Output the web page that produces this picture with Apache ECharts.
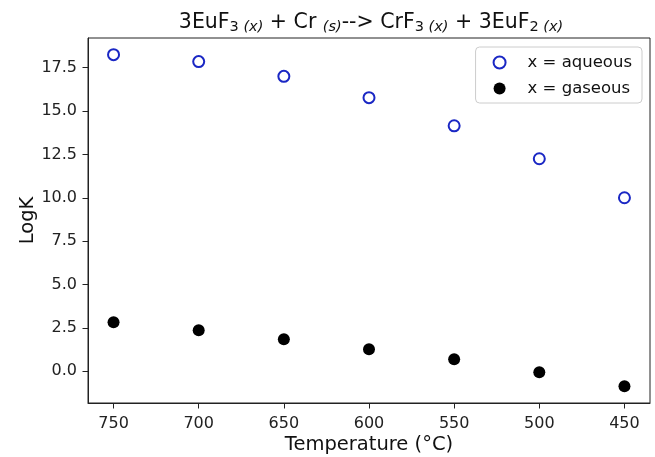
<!DOCTYPE html>
<html><head><meta charset="utf-8">
<script src="https://cdn.jsdelivr.net/npm/echarts@6/dist/echarts.min.js"></script>
<style>html,body{margin:0;padding:0;background:#fff}#c{width:655px;height:457px}</style>
</head><body><div id="c"></div>
<script>
const temperatures = [750, 700, 650, 600, 550, 500, 450];
const aqueous = [18.25, 17.85, 17.0, 15.77, 14.15, 12.25, 10.0];
const gaseous = [2.83, 2.37, 1.85, 1.27, 0.69, -0.06, -0.87];
const xTicks = [750, 700, 650, 600, 550, 500, 450];
const yTicks = [0, 2.5, 5, 7.5, 10, 12.5, 15, 17.5];

const F = 'DejaVu Sans';
const chart = echarts.init(document.getElementById('c'), null, {renderer: 'canvas'});
const pair = (xs, ys) => xs.map((x, i) => [x, ys[i]]);
chart.setOption({
  animation: false,
  textStyle: {fontFamily: F},
  title: {
    text: '3EuF{s|3 }{i|(x)} + Cr {i|(s)}--> CrF{s|3 }{i|(x)} + 3EuF{s|2 }{i|(x)}',
    left: 366, top: 6, textAlign: 'center',
    textStyle: {
      fontFamily: F, fontSize: 20.5, fontWeight: 'normal', color: '#111',
      rich: {
        s: {fontFamily: F, fontSize: 14.5, color: '#111', padding: [9, 0, 0, 0]},
        i: {fontFamily: F, fontSize: 14.5, fontStyle: 'italic', color: '#111', padding: [9, 0, 0, 0]}
      }
    }
  },
  grid: {left: 88, right: 5, top: 38, bottom: 54, outerBoundsMode: 'none', containLabel: false,
    show: true, borderColor: '#222', borderWidth: 1, backgroundColor: 'transparent'},
  legend: {
    orient: 'vertical', right: 13, top: 47,
    padding: [7, 10, 6, 17], itemGap: 9,
    itemWidth: 36, itemHeight: 12,
    backgroundColor: '#fff',
    borderColor: '#ccc', borderWidth: 1, borderRadius: 4,
    textStyle: {fontFamily: F, fontSize: 16.5, lineHeight: 16, color: '#111', padding: [0, 0, 0, 5]},
    data: [
      {name: 'x = aqueous'},
      {name: 'x = gaseous'}
    ]
  },
  xAxis: {
    type: 'value', inverse: true, min: 435, max: 765,
    name: 'Temperature (°C)', nameLocation: 'middle', nameGap: 32, nameMoveOverlap: false,
    nameTextStyle: {fontFamily: F, fontSize: 19.5, color: '#111'},
    axisLine: {show: true, onZero: false, lineStyle: {color: '#222', width: 1}},
    axisTick: {show: true, customValues: xTicks, length: 5.5, inside: false, lineStyle: {color: '#222'}},
    axisLabel: {customValues: xTicks, fontFamily: F, fontSize: 16, color: '#222', margin: 13},
    splitLine: {show: false}
  },
  yAxis: {
    type: 'value', min: -1.83, max: 19.21,
    name: 'LogK', nameLocation: 'middle', nameGap: 50, nameMoveOverlap: false,
    nameTextStyle: {fontFamily: F, fontSize: 19.5, color: '#111'},
    axisLine: {show: true, onZero: false, lineStyle: {color: '#222', width: 1}},
    axisTick: {show: true, customValues: yTicks, length: 5.5, lineStyle: {color: '#222'}},
    axisLabel: {customValues: yTicks, fontFamily: F, fontSize: 16, color: '#222', margin: 11,
      formatter: v => v.toFixed(1)},
    splitLine: {show: false}
  },
  series: [
    {name: 'x = aqueous', type: 'scatter', symbol: 'emptyCircle', symbolSize: 11,
     itemStyle: {color: '#1a27c4', borderWidth: 1.6, opacity: 1},
     data: pair(temperatures, aqueous)},
    {name: 'x = gaseous', type: 'scatter', symbol: 'circle', symbolSize: 12,
     itemStyle: {color: '#000', opacity: 1},
     data: pair(temperatures, gaseous)}
  ]
});
</script></body></html>
